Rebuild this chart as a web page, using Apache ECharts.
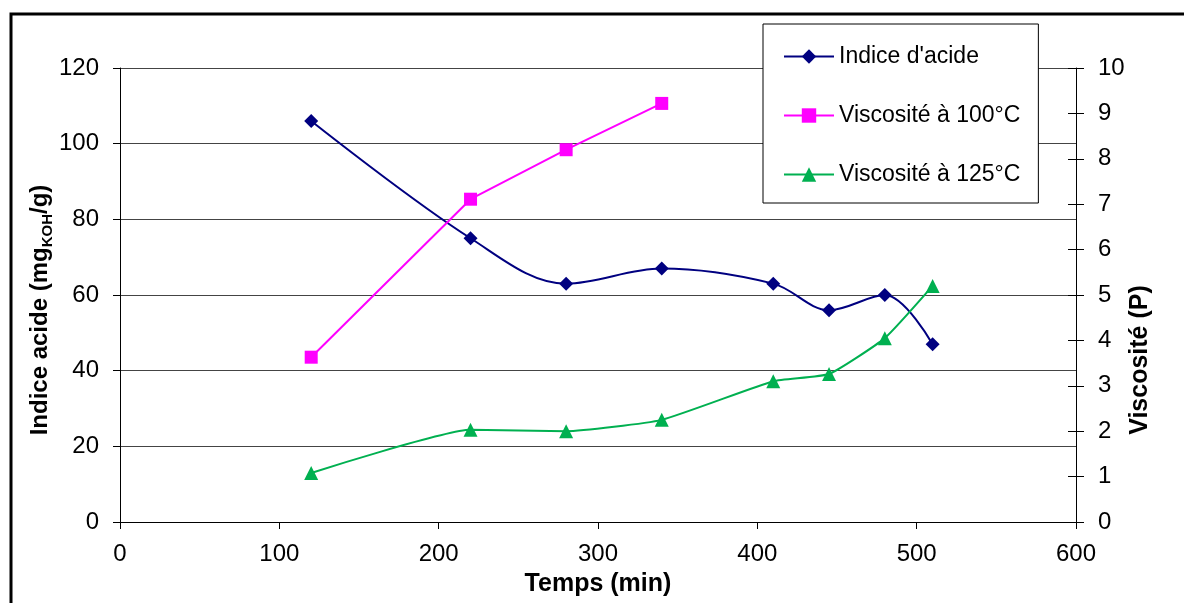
<!DOCTYPE html>
<html>
<head>
<meta charset="utf-8">
<script src="https://cdn.jsdelivr.net/npm/echarts@6/dist/echarts.min.js"></script>
<style>
  html, body { margin: 0; padding: 0; background: #fff; }
  #chart { width: 1184px; height: 603px; }
</style>
</head>
<body>
<div id="chart"></div>
<script>
var myChart = echarts.init(document.getElementById('chart'));

// temps (min)
var tempsIndice = [120, 220, 280, 340, 410, 445, 480, 510];
var tempsV100 = [120, 220, 280, 340];
var tempsV125 = [120, 220, 280, 340, 410, 445, 480, 510];

// valeurs
var indiceAcide = [106, 75, 63, 67, 63, 56, 60, 47];
var visco100 = [3.63, 7.11, 8.2, 9.22];
var visco125 = [1.08, 2.03, 2.0, 2.25, 3.1, 3.26, 4.05, 5.2];

var names = ["Indice d'acide", 'Viscosité à 100°C', 'Viscosité à 125°C'];

function pairs(xs, ys) {
    return xs.map(function (x, i) { return [x, ys[i]]; });
}

var font = 'Liberation Sans, Arial, sans-serif';

var option = {
    animation: false,
    backgroundColor: '#fff',
    textStyle: { fontFamily: font },
    graphic: [{
        type: 'rect',
        shape: { x: 11, y: 14, width: 1200, height: 620 },
        style: { fill: 'none', stroke: '#000', lineWidth: 3 },
        silent: true
    }],
    grid: { left: 120, right: 108, top: 68, bottom: 81 },
    legend: {
        orient: 'vertical',
        left: 763,
        top: 24,
        padding: [21, 18, 17, 20],
        itemGap: 36,
        itemWidth: 50,
        itemHeight: 18,
        backgroundColor: '#fff',
        borderColor: '#000',
        borderWidth: 1,
        textStyle: { fontSize: 23, color: '#000', fontFamily: font },
        data: names
    },
    xAxis: {
        type: 'value',
        min: 0, max: 600, interval: 100,
        name: 'Temps (min)',
        nameLocation: 'middle',
        nameGap: 50,
        nameMoveOverlap: false,
        nameTextStyle: { fontSize: 25, fontWeight: 'bold', color: '#000' },
        axisLine: { lineStyle: { color: '#000', width: 1 } },
        axisTick: { show: true, length: 7, lineStyle: { color: '#000' } },
        axisLabel: { fontSize: 24, color: '#000', margin: 20 },
        splitLine: { show: false }
    },
    yAxis: [{
        type: 'value',
        position: 'left',
        min: 0, max: 120, interval: 20,
        name: '{a|Indice acide (mg}{sub|KOH}{a|/g)}',
        nameLocation: 'middle',
        nameRotate: 90,
        nameGap: 65,
        nameMoveOverlap: false,
        nameTextStyle: {
            fontSize: 24, fontWeight: 'bold', color: '#000',
            padding: [0, 30, 0, 0],
            rich: {
                a: { fontSize: 24, fontWeight: 'bold', color: '#000', lineHeight: 30, verticalAlign: 'middle' },
                sub: { fontSize: 15, fontWeight: 'bold', color: '#000', lineHeight: 18, verticalAlign: 'bottom' }
            }
        },
        axisLine: { show: true, lineStyle: { color: '#000', width: 1 } },
        axisTick: { show: true, length: 7, lineStyle: { color: '#000' } },
        axisLabel: { fontSize: 24, color: '#000', margin: 21 },
        splitLine: { show: true, lineStyle: { color: '#444', width: 1 } }
    }, {
        type: 'value',
        position: 'right',
        min: 0, max: 10, interval: 1,
        name: 'Viscosité (P)',
        nameLocation: 'middle',
        nameRotate: 90,
        nameGap: 52,
        nameMoveOverlap: false,
        nameTextStyle: {
            fontSize: 25, fontWeight: 'bold', color: '#000',
            padding: [0, 130, 0, 0]
        },
        axisLine: { show: true, lineStyle: { color: '#000', width: 1 } },
        axisTick: { show: true, length: 8, lineStyle: { color: '#000' } },
        axisLabel: { fontSize: 24, color: '#000', margin: 22 },
        splitLine: { show: false }
    }, {
        // ticks intérieurs de l'axe de droite
        type: 'value',
        position: 'right',
        min: 0, max: 10, interval: 1,
        axisLine: { show: false },
        axisTick: { show: true, inside: true, length: 8, lineStyle: { color: '#000' } },
        axisLabel: { show: false },
        splitLine: { show: false }
    }],
    series: [{
        name: names[0],
        type: 'line',
        yAxisIndex: 0,
        smooth: 0.35,
        symbol: 'diamond',
        symbolSize: 14,
        itemStyle: { color: '#000080' },
        lineStyle: { color: '#000080', width: 2 },
        data: pairs(tempsIndice, indiceAcide)
    }, {
        name: names[1],
        type: 'line',
        yAxisIndex: 1,
        symbol: 'rect',
        symbolSize: 13,
        itemStyle: { color: '#ff00ff' },
        lineStyle: { color: '#ff00ff', width: 2 },
        data: pairs(tempsV100, visco100)
    }, {
        name: names[2],
        type: 'line',
        yAxisIndex: 1,
        smooth: 0.15,
        symbol: 'triangle',
        symbolSize: 14,
        itemStyle: { color: '#00b050' },
        lineStyle: { color: '#00b050', width: 2 },
        data: pairs(tempsV125, visco125)
    }]
};

myChart.setOption(option);
</script>
</body>
</html>
